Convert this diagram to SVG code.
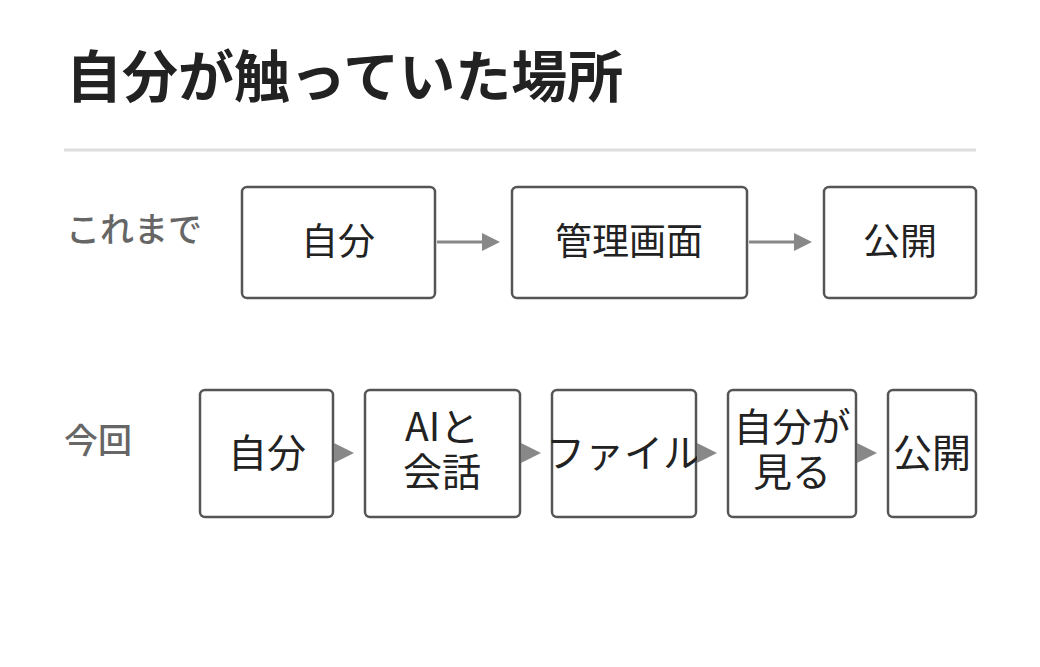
<svg xmlns="http://www.w3.org/2000/svg" width="1040" height="667" viewBox="0 0 1040 667">
<style>
text{font-family:"Noto Sans CJK JP","Noto Sans",sans-serif;}
.box{fill:#fff;stroke:#555;stroke-width:2.5}
.t{font-size:37px;fill:#222;text-anchor:middle}
.t2{font-size:39px;fill:#222;text-anchor:middle}
.lbl{font-size:34px;fill:#666;font-weight:500}
.ln{stroke:#888;stroke-width:3;fill:none}
.hd{fill:#888}
</style>
<rect width="1040" height="667" fill="#fff"/>
<text x="66" y="97" font-size="56" font-weight="bold" fill="#222">自分が触っていた場所</text>
<line x1="64" y1="150" x2="976" y2="150" stroke="#ddd" stroke-width="3"/>
<text class="lbl" x="66" y="242">これまで</text>
<text class="lbl" x="64" y="453">今回</text>
<g id="n1"><rect class="box" x="242" y="187" width="193" height="111" rx="5"/><text class="t" x="338" y="255">自分</text></g>
<g id="n2"><rect class="box" x="512" y="187" width="235" height="111" rx="5"/><text class="t" x="629" y="255">管理画面</text></g>
<g id="n3"><rect class="box" x="824" y="187" width="152" height="111" rx="5"/><text class="t" x="900" y="255">公開</text></g>
<g id="m1"><rect class="box" x="200" y="390" width="133" height="127" rx="5"/><text class="t2" x="267" y="467">自分</text></g>
<g id="m2"><rect class="box" x="365" y="390" width="155" height="127" rx="5"/><text class="t2" x="442" y="441">AIと</text><text class="t2" x="442" y="486">会話</text></g>
<g id="m3"><rect class="box" x="552" y="390" width="144" height="127" rx="5"/><text class="t2" x="624" y="467">ファイル</text></g>
<g id="m4"><rect class="box" x="728" y="390" width="128" height="127" rx="5"/><text class="t2" x="792" y="441">自分が</text><text class="t2" x="792" y="486">見る</text></g>
<g id="m5"><rect class="box" x="888" y="390" width="88" height="127" rx="5"/><text class="t2" x="932" y="467">公開</text></g>
<g id="connectors">
<line class="ln" x1="437" y1="242" x2="484" y2="242"/><polygon class="hd" points="482,233 500,242 482,251"/>
<line class="ln" x1="749" y1="242" x2="796" y2="242"/><polygon class="hd" points="794,233 812,242 794,251"/>
<polygon class="hd" points="334,443 354,453 334,463"/>
<polygon class="hd" points="521,443 541,453 521,463"/>
<polygon class="hd" points="697,443 717,453 697,463"/>
<polygon class="hd" points="857,443 877,453 857,463"/>
</g>
</svg>
